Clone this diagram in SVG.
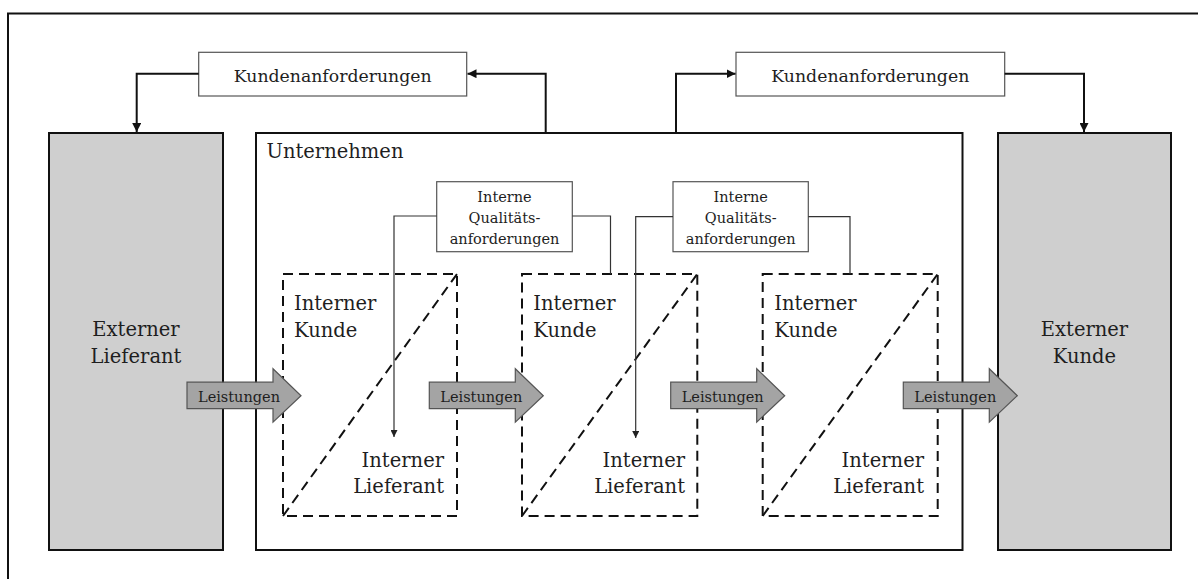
<svg xmlns="http://www.w3.org/2000/svg" width="1198" height="579" viewBox="0 0 1198 579">
  <style>
    text { font-family: "DejaVu Serif", "Liberation Serif", serif; fill: #1e1e1e; }
    .big { font-size: 19.5px; }
    .mid { font-size: 17.3px; }
    .small { font-size: 14.5px; }
    .lbl { font-size: 14.5px; }
    .frame { fill: none; stroke: #111; stroke-width: 2; }
    .ext { fill: #cfcfcf; stroke: #111; stroke-width: 2; }
    .req { fill: #fff; stroke: #555; stroke-width: 1.2; }
    .dash { fill: none; stroke: #111; stroke-width: 2; stroke-dasharray: 10 6; }
    .flow { fill: none; stroke: #111; stroke-width: 2; }
    .thin { fill: none; stroke: #333; stroke-width: 1.2; }
    .perf { fill: #a4a4a4; stroke: #555; stroke-width: 1.2; }
  </style>
  <defs>
    <marker id="headBold" markerUnits="userSpaceOnUse" viewBox="0 0 10 10" refX="10" refY="5" markerWidth="9" markerHeight="9" orient="auto">
      <path d="M0,0 L10,5 L0,10 Z" fill="#111"/>
    </marker>
    <marker id="headThin" markerUnits="userSpaceOnUse" viewBox="0 0 10 10" refX="10" refY="5" markerWidth="8" markerHeight="7" orient="auto">
      <path d="M0,0 L10,5 L0,10 Z" fill="#222"/>
    </marker>
    <polygon id="perfArrow" points="0,13.5 86,13.5 86,0 114,27 86,53.5 86,40 0,40"/>
  </defs>

  <rect width="1198" height="579" fill="#fff"/>
  <!-- outer frame, only the top and left edges fall inside the page -->
  <path class="frame" d="M8,579 V13.5 H1198"/>

  <g id="externer-lieferant">
    <rect class="ext" x="49" y="133" width="174" height="417"/>
    <text class="big" x="136" y="336" text-anchor="middle">Externer</text>
    <text class="big" x="136" y="362.5" text-anchor="middle">Lieferant</text>
  </g>

  <g id="externer-kunde">
    <rect class="ext" x="998" y="133" width="173" height="417"/>
    <text class="big" x="1084.5" y="336" text-anchor="middle">Externer</text>
    <text class="big" x="1084.5" y="362.5" text-anchor="middle">Kunde</text>
  </g>

  <g id="unternehmen">
    <rect class="frame" x="256" y="133" width="706.5" height="417"/>
    <text class="big" x="266.5" y="158">Unternehmen</text>
  </g>

  <g id="kundenanforderungen-links">
    <rect class="req" x="198.7" y="52.3" width="268" height="43.7"/>
    <text class="mid" x="332.7" y="81.5" text-anchor="middle">Kundenanforderungen</text>
  </g>

  <g id="kundenanforderungen-rechts">
    <rect class="req" x="736" y="52.3" width="268.7" height="43.7"/>
    <text class="mid" x="870.3" y="81.5" text-anchor="middle">Kundenanforderungen</text>
  </g>

  <g id="qualitaet-1">
    <rect class="req" x="436.7" y="181.7" width="135.6" height="70"/>
    <text class="small" x="504.5" y="202.3" text-anchor="middle">Interne</text>
    <text class="small" x="504.5" y="223" text-anchor="middle">Qualitäts-</text>
    <text class="small" x="504.5" y="243.5" text-anchor="middle">anforderungen</text>
  </g>

  <g id="qualitaet-2">
    <rect class="req" x="673" y="181.7" width="135.3" height="70"/>
    <text class="small" x="740.7" y="202.3" text-anchor="middle">Interne</text>
    <text class="small" x="740.7" y="223" text-anchor="middle">Qualitäts-</text>
    <text class="small" x="740.7" y="243.5" text-anchor="middle">anforderungen</text>
  </g>

  <g id="stufe-1">
    <rect class="dash" x="283" y="274" width="174" height="242"/>
    <line class="dash" x1="283" y1="516" x2="457" y2="274"/>
    <text class="big" x="294" y="310">Interner</text>
    <text class="big" x="294" y="336.5">Kunde</text>
    <text class="big" x="444" y="466.5" text-anchor="end">Interner</text>
    <text class="big" x="444" y="493" text-anchor="end">Lieferant</text>
  </g>

  <g id="stufe-2">
    <rect class="dash" x="522" y="274" width="175.3" height="242"/>
    <line class="dash" x1="522" y1="516" x2="697.3" y2="274"/>
    <text class="big" x="533.3" y="310">Interner</text>
    <text class="big" x="533.3" y="336.5">Kunde</text>
    <text class="big" x="685" y="466.5" text-anchor="end">Interner</text>
    <text class="big" x="685" y="493" text-anchor="end">Lieferant</text>
  </g>

  <g id="stufe-3">
    <rect class="dash" x="762.7" y="274" width="175" height="242"/>
    <line class="dash" x1="762.7" y1="516" x2="937.7" y2="274"/>
    <text class="big" x="774.3" y="310">Interner</text>
    <text class="big" x="774.3" y="336.5">Kunde</text>
    <text class="big" x="924" y="466.5" text-anchor="end">Interner</text>
    <text class="big" x="924" y="493" text-anchor="end">Lieferant</text>
  </g>

  <g id="connectors">
    <path class="flow" d="M198.7,73.7 H136.7 V132" marker-end="url(#headBold)"/>
    <path class="flow" d="M545.7,132 V73.7 H467.5" marker-end="url(#headBold)"/>
    <path class="flow" d="M676,132 V73.7 H735.5" marker-end="url(#headBold)"/>
    <path class="flow" d="M1004.7,73.7 H1084 V132" marker-end="url(#headBold)"/>
    <path class="thin" d="M436.7,216 H394 V437" marker-end="url(#headThin)"/>
    <path class="thin" d="M572.3,216 H610.5 V274"/>
    <path class="thin" d="M673,216.7 H635.7 V438" marker-end="url(#headThin)"/>
    <path class="thin" d="M808.3,216.7 H850 V274"/>
  </g>

  <g id="leistungen-1">
    <use href="#perfArrow" class="perf" x="187" y="368.7"/>
    <text class="lbl" x="239" y="402" text-anchor="middle">Leistungen</text>
  </g>
  <g id="leistungen-2">
    <use href="#perfArrow" class="perf" x="429.3" y="368.7"/>
    <text class="lbl" x="481.3" y="402" text-anchor="middle">Leistungen</text>
  </g>
  <g id="leistungen-3">
    <use href="#perfArrow" class="perf" x="670.7" y="368.7"/>
    <text class="lbl" x="722.7" y="402" text-anchor="middle">Leistungen</text>
  </g>
  <g id="leistungen-4">
    <use href="#perfArrow" class="perf" x="903.3" y="368.7"/>
    <text class="lbl" x="955.3" y="402" text-anchor="middle">Leistungen</text>
  </g>
</svg>
